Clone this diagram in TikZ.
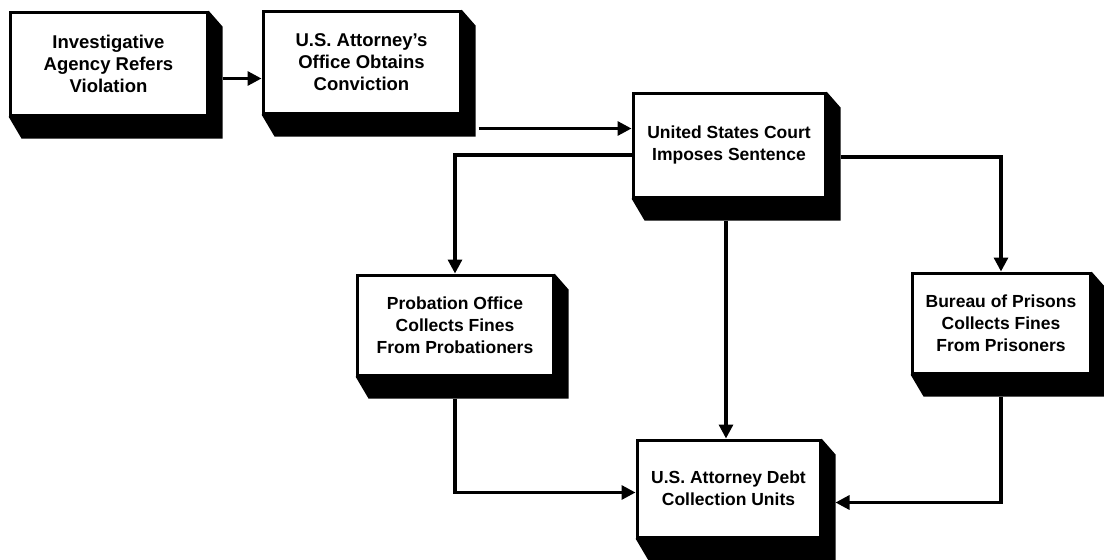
\documentclass[tikz,border=0pt]{standalone}
\usepackage{fontspec}
\setmainfont{Liberation Sans}
\usetikzlibrary{arrows.meta,calc}
\newcommand\boxshadow[1]{\fill[black] (#1.south west) -- ++(13,22) -- ($(#1.south east)+(14,22)$) -- ($(#1.north east)+(14,16)$) -- (#1.north east) -- (#1.south east) -- cycle;}
\begin{document}
\begin{tikzpicture}[x=1pt,y=-1pt,
  face/.style={draw, line width=3pt, fill=white, align=center, inner sep=0pt,
    font=\bfseries\fontsize{17.5}{22}\selectfont},
  bigface/.style={face, font=\bfseries\fontsize{18.5}{22}\selectfont},
  arr/.style={line width=3.2pt, -{Triangle[length=14pt,width=14pt]}}]
\useasboundingbox (0,0) rectangle (1104,560);

\node[bigface, minimum width=197pt, minimum height=103pt] (inv) at (108.5,63.5)
  {Investigative\\Agency Refers\\Violation};
\node[bigface, minimum width=197pt, minimum height=102pt] (usao) at (361.5,62)
  {U.S. Attorney's\\Office Obtains\\Conviction};
\node[face, minimum width=192pt, minimum height=104pt] (court) at (729,145)
  {United States Court\\Imposes Sentence};
\node[face, minimum width=196pt, minimum height=100pt] (prob) at (455,325)
  {Probation Office\\Collects Fines\\From Probationers};
\node[face, minimum width=178pt, minimum height=100pt] (bureau) at (1001,323)
  {Bureau of Prisons\\Collects Fines\\From Prisoners};
\node[face, minimum width=183pt, minimum height=97pt] (debt) at (728.5,488.5)
  {U.S. Attorney Debt\\Collection Units};

\boxshadow{inv}
\boxshadow{usao}
\boxshadow{court}
\boxshadow{prob}
\boxshadow{bureau}
\boxshadow{debt}

\coordinate (a1) at ($(inv.east)+(14,15)$);
\draw[arr] (a1) -- (a1 -| usao.west);
\coordinate (a2) at ($(usao.south east)+(17,14)$);
\draw[arr] (a2) -- (a2 -| court.west);
\draw[arr] ([shift={(0,10)}]court.west) -| (prob.north);
\draw[arr] ([shift={(14,12)}]court.east) -| (bureau.north);
\coordinate (a3) at ($(court.south)+(-3,22)$);
\draw[arr] (a3) -- (a3 |- debt.north);
\draw[arr] ([shift={(0,22)}]prob.south) |- ([shift={(0,4)}]debt.west);
\draw[arr] ([shift={(0,22)}]bureau.south) |- ([shift={(14,14)}]debt.east);
\end{tikzpicture}
\end{document}
